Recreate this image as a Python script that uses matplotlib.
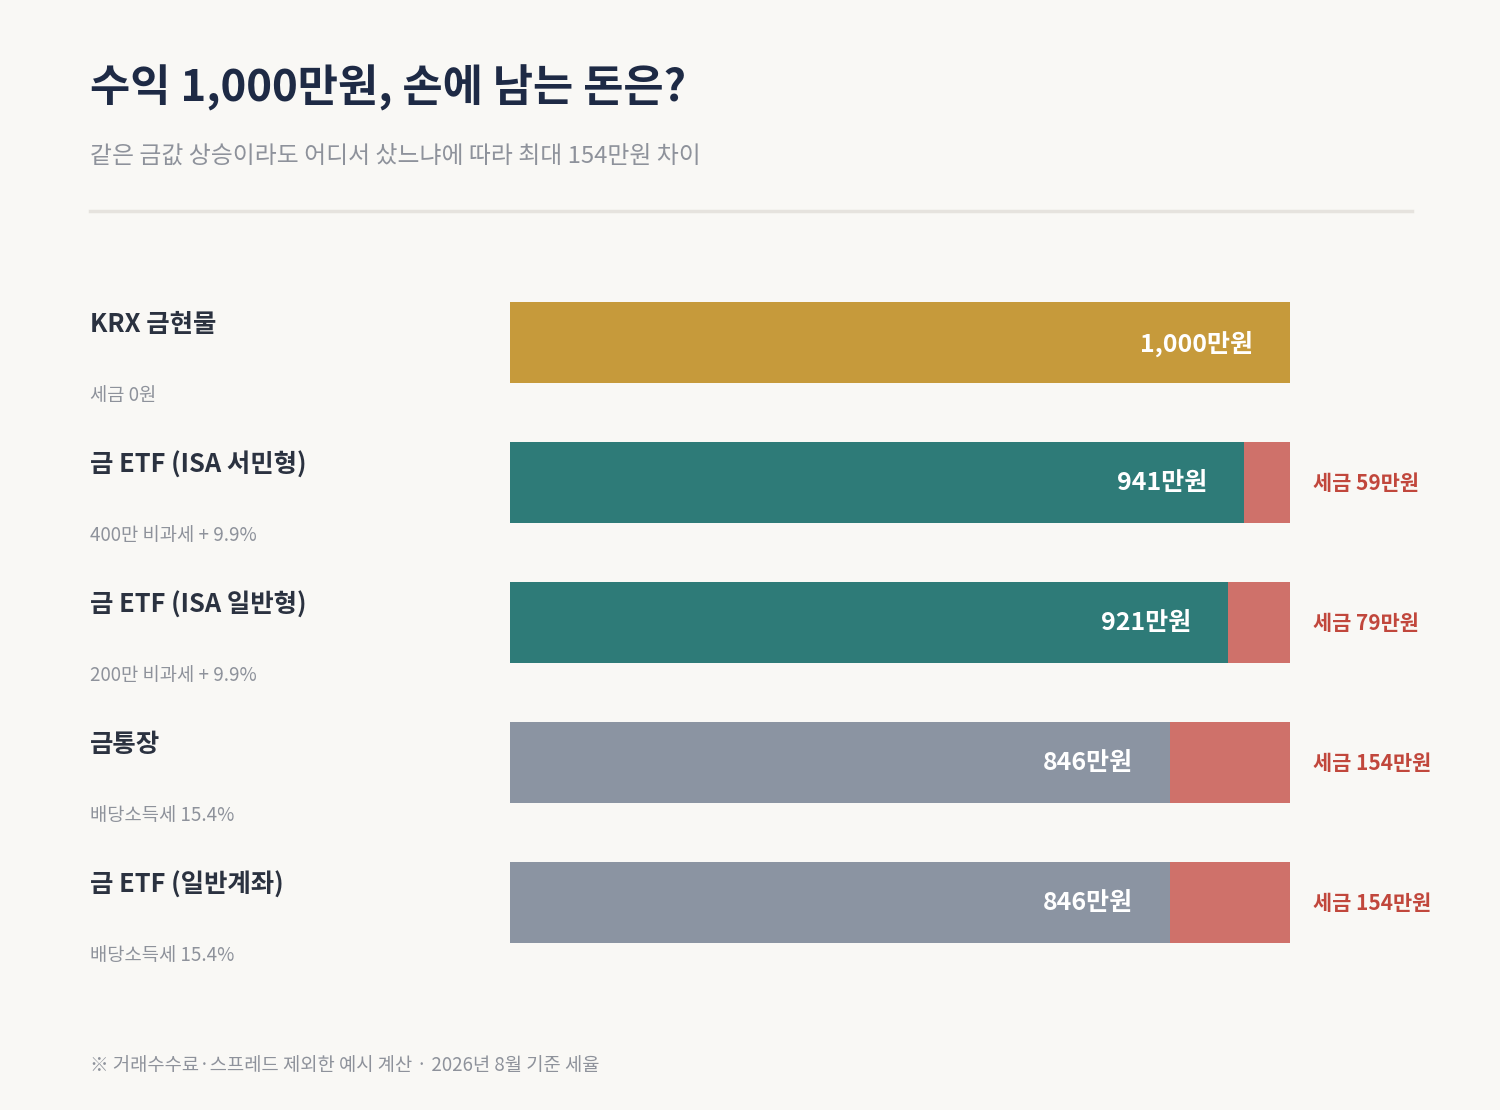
import matplotlib.pyplot as plt
from matplotlib.transforms import blended_transform_factory

plt.rcParams['font.family'] = ['Noto Sans CJK KR', 'DejaVu Sans']

# data (만원)
names = ["KRX 금현물", "금 ETF (ISA 서민형)", "금 ETF (ISA 일반형)", "금통장", "금 ETF (일반계좌)"]
notes = ["세금 0원", "400만 비과세 + 9.9%", "200만 비과세 + 9.9%", "배당소득세 15.4%", "배당소득세 15.4%"]
net = [1000, 941, 921, 846, 846]
tax = [0, 59, 79, 154, 154]
net_labels = ["1,000만원", "941만원", "921만원", "846만원", "846만원"]
tax_labels = ["", "세금 59만원", "세금 79만원", "세금 154만원", "세금 154만원"]

bg = "#f9f8f5"
bar_colors = ["#c69a3b", "#2e7b78", "#2e7b78", "#8b94a2", "#8b94a2"]
tax_color = "#cf716a"

W, H = 1500, 1110
fig = plt.figure(figsize=(W / 100, H / 100), dpi=100, facecolor=bg)

ax = fig.add_axes([510 / W, 0.1239, 780 / W, 0.6306])
ax.set_facecolor(bg)
ax.set_xlim(0, 1000)
ax.set_ylim(4.5, -0.5)
ax.axis("off")

ys = list(range(len(names)))
ax.barh(ys, net, height=0.58, color=bar_colors, linewidth=0)
ax.barh(ys, tax, left=net, height=0.58, color=tax_color, linewidth=0)

for i in ys:
    ax.annotate(net_labels[i], (net[i], i), xytext=(-37, -1), textcoords="offset pixels",
                ha="right", va="center", color="white", fontsize=18, fontweight="bold")
    if tax[i] > 0:
        ax.annotate(tax_labels[i], (net[i] + tax[i], i), xytext=(23, -1), textcoords="offset pixels",
                    ha="left", va="center", color="#c1473c", fontsize=15, fontweight="bold")

# left labels
tr = blended_transform_factory(fig.transFigure, ax.transData)
for i in ys:
    ax.text(90 / W, i - 0.127, names[i], transform=tr, ha="left", va="center",
            fontsize=18.3, fontweight="bold", color="#2b3240", clip_on=False)
    ax.text(90 / W, i + 0.38, notes[i], transform=tr, ha="left", va="center",
            fontsize=13.5, color="#8e929b", clip_on=False)

# title block
fig.text(90 / W, 1 - 88 / H, "수익 1,000만원, 손에 남는 돈은?", ha="left", va="center",
         fontsize=31.5, fontweight="bold", color="#1e2a45")
fig.text(90 / W, 1 - 156 / H, "같은 금값 상승이라도 어디서 샀느냐에 따라 최대 154만원 차이",
         ha="left", va="center", fontsize=17.2, color="#8e929b")
fig.add_artist(plt.Line2D([90 / W, 1412 / W], [1 - 211 / H, 1 - 211 / H],
                          transform=fig.transFigure, color="#e6e3de", linewidth=2.5))

fig.text(90 / W, 1 - 1066 / H, "※ 거래수수료·스프레드 제외한 예시 계산 · 2026년 8월 기준 세율",
         ha="left", va="center", fontsize=13.5, color="#8e929b")

fig.savefig("out.png", dpi=100, facecolor=bg)
